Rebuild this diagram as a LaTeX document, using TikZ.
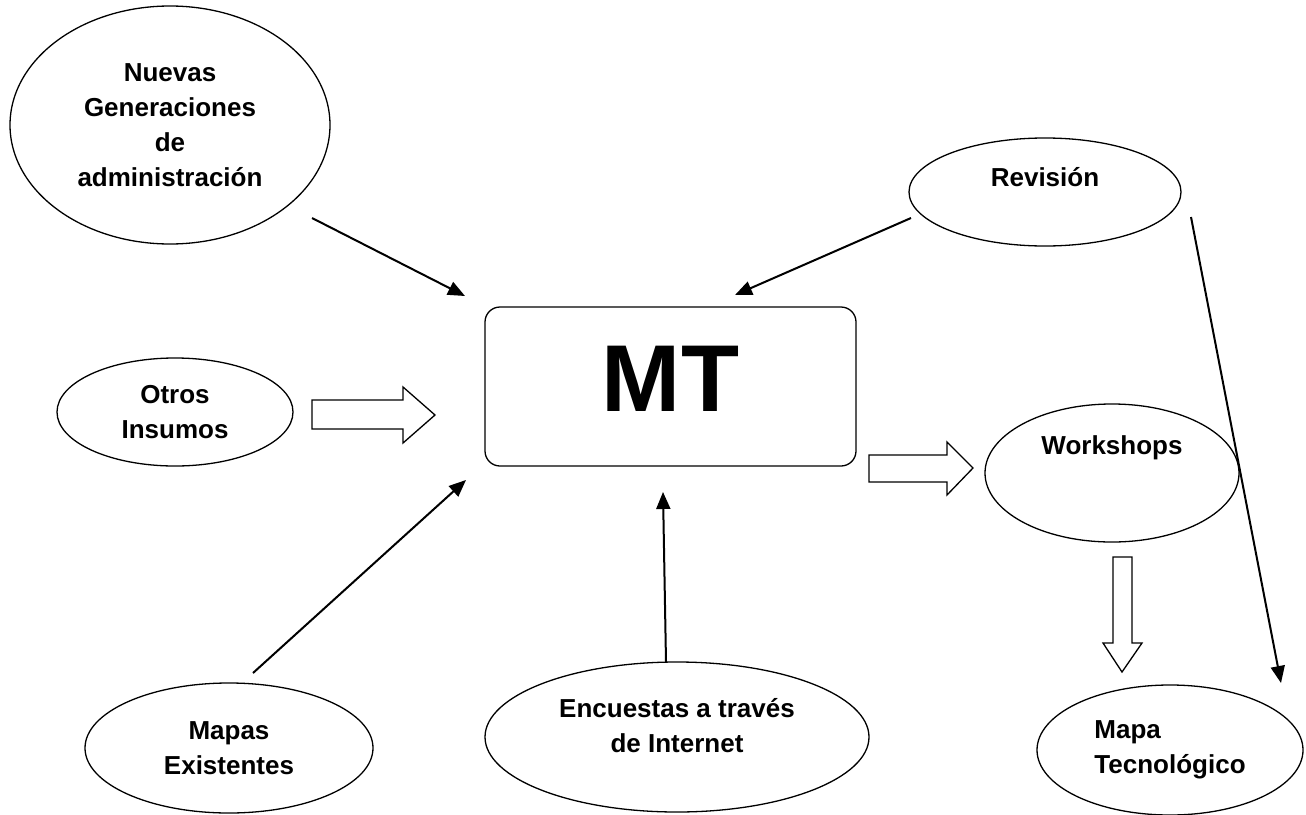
\documentclass[tikz,border=0pt]{standalone}
\usepackage{fontspec}
\setmainfont{Liberation Sans}
\usetikzlibrary{arrows.meta,shapes.geometric}

\tikzset{
  bubble/.style={draw, ellipse, line width=1.3pt, inner sep=0pt,
    font=\bfseries\fontsize{26}{35}\selectfont, align=center},
  bubbletext/.style={font=\bfseries\fontsize{26}{35}\selectfont, align=center},
  conn/.style={line width=2pt, -{Triangle[length=17pt,width=14pt]}},
  fatarrow/.style={draw, line width=1.3pt, fill=white, line join=miter},
}

\begin{document}
\begin{tikzpicture}[x=1pt, y=-1pt]
  \useasboundingbox (0,0) rectangle (1306,814);
  % central box
  \node[draw, rounded corners=15pt, line width=1.3pt, minimum width=371pt, minimum height=159pt,
    label={[font=\bfseries\fontsize{95}{95}\selectfont, yshift=8pt]center:MT}] (mt) at (670.5,386.5) {};
  % ellipses
  \node[bubble, minimum width=320pt, minimum height=238pt] (nuevas) at (170,125)
    {Nuevas\\Generaciones\\de\\administración};
  \node[bubble, minimum width=272pt, minimum height=108pt,
    label={[bubbletext, yshift=15pt]center:Revisión}] (revision) at (1045,192) {};
  \node[bubble, minimum width=236pt, minimum height=108pt] (otros) at (175,412) {Otros\\Insumos};
  \node[bubble, minimum width=254pt, minimum height=138pt,
    label={[bubbletext, yshift=25pt]center:Workshops}] (workshops) at (1112,473) {};
  \node[bubble, minimum width=288pt, minimum height=130pt] (mapas) at (229,748) {Mapas\\Existentes};
  \node[bubble, minimum width=384pt, minimum height=150pt,
    label={[bubbletext, yshift=11pt]center:Encuestas a través\\de Internet}] (encuestas) at (677,737) {};
  \node[bubble, align=left, minimum width=266pt, minimum height=130pt] (mapatec) at (1170,750)
    {Mapa\\Tecnológico};

  % arrow ends
  \coordinate (n1) at (312,218);  \coordinate (n2) at (465,296);
  \coordinate (r1) at (911,218);  \coordinate (r2) at (735,295);
  \coordinate (m1) at (253,673);  \coordinate (m2) at (466,480);
  \coordinate (e1) at (666,662);  \coordinate (e2) at (663,492);
  \coordinate (w1) at (1191,217); \coordinate (w2) at (1281,683);

  \draw[conn] (n1) -- (n2);
  \draw[conn] (r1) -- (r2);
  \draw[conn] (m1) -- (m2);
  \draw[conn] (e1) -- (e2);
  \draw[conn] (w1) -- (w2);

  % block arrows
  \draw[fatarrow] (312,400) -- (403,400) -- (403,387) -- (435,415) -- (403,443) -- (403,429) -- (312,429) -- cycle;
  \draw[fatarrow] (869,455) -- (947,455) -- (947,442) -- (973,468) -- (947,495) -- (947,482) -- (869,482) -- cycle;
  \draw[fatarrow] (1113,557) -- (1132,557) -- (1132,643) -- (1142,643) -- (1122,672) -- (1103,643) -- (1113,643) -- cycle;
\end{tikzpicture}
\end{document}
